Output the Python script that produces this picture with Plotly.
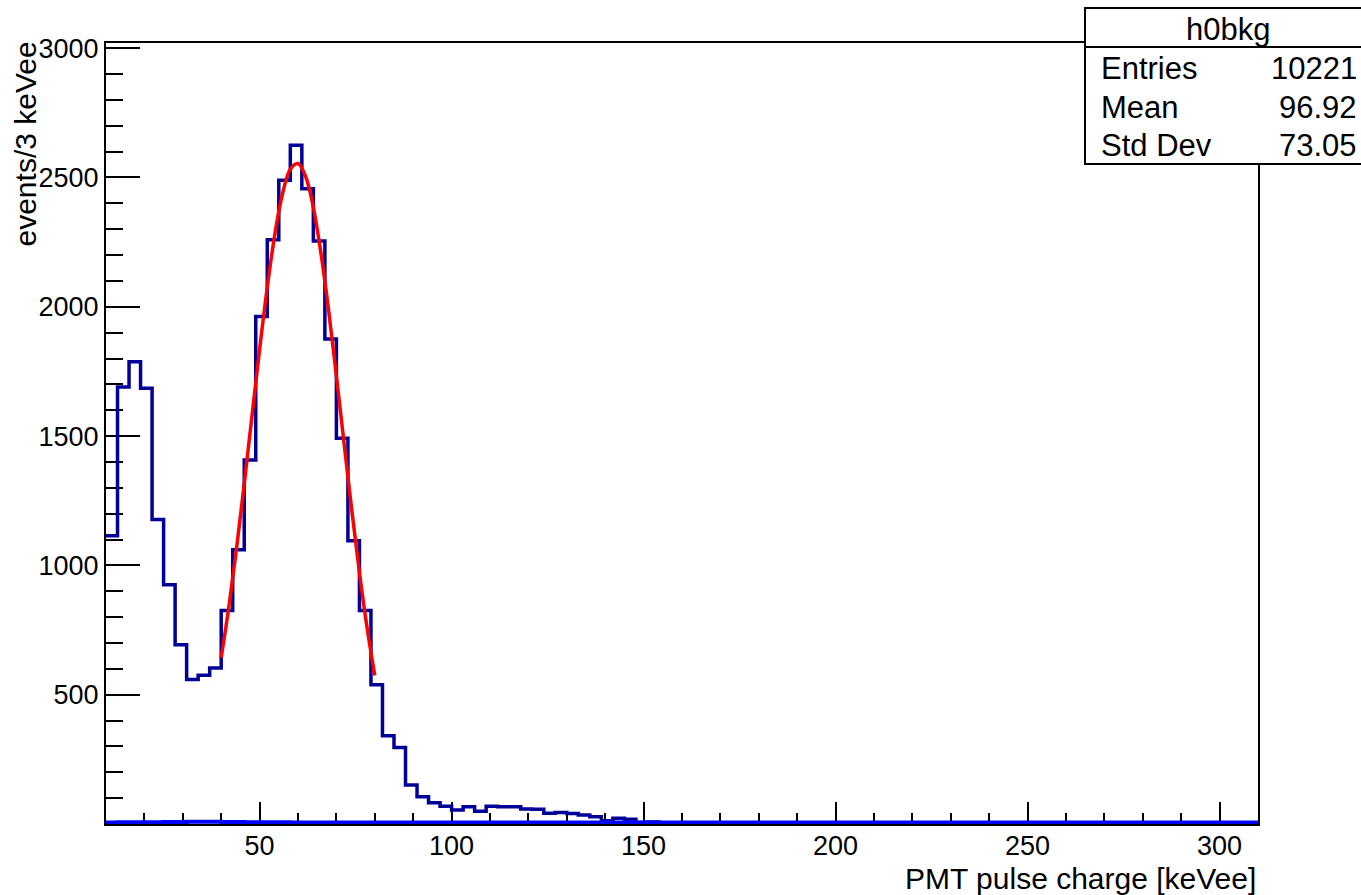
import plotly.graph_objects as go

# ---------------- data ----------------
bin_start = 10.0
bin_width = 3.0
n_bins = 100

h0bkg_counts = [
    1115, 1690, 1787, 1685, 1177, 925, 693, 559, 575, 603,
    826, 1060, 1408, 1962, 2259, 2489, 2625, 2456, 2254, 1875,
    1492, 1095, 826, 538, 341, 296, 151, 105, 82, 69,
    54, 67, 49, 69, 67, 67, 58, 57, 42, 44,
    41, 35, 28, 13, 22, 18, 6, 8, 4, 3,
    2, 2, 1, 2, 1, 1, 0, 1, 1, 0,
    1, 0, 1, 0, 0, 1, 0, 0, 1, 0,
    0, 0, 1, 0, 0, 0, 0, 1, 0, 0,
    0, 0, 0, 0, 1, 0, 0, 0, 0, 0,
    0, 0, 0, 0, 0, 0, 0, 0, 0, 0,
]

second_counts = [
    6, 7, 7, 7, 7, 8, 8, 9, 9, 9,
    8, 8, 7, 7, 7, 7, 6, 6, 6, 6,
    6, 6, 6, 6, 6, 6, 6, 6, 6, 6,
    6, 6, 6, 6, 6, 6, 6, 6, 6, 6,
    6, 6, 6, 6, 6, 6, 6, 6, 6, 6,
    6, 6, 6, 6, 6, 6, 6, 6, 6, 6,
    6, 6, 6, 6, 6, 6, 6, 6, 6, 6,
    6, 6, 6, 6, 6, 6, 6, 6, 6, 6,
    6, 6, 6, 6, 6, 6, 6, 6, 6, 6,
    6, 6, 6, 6, 6, 6, 6, 6, 6, 6,
]

fit_x = [40, 42, 44, 46, 48, 50, 52, 54, 56, 58, 60,
         62, 64, 66, 68, 70, 72, 74, 76, 78, 80]
fit_y = [643, 840, 1066, 1315, 1576, 1835, 2076, 2283, 2439, 2532, 2554,
         2503, 2384, 2205, 1983, 1733, 1471, 1214, 972, 758, 574]

stats_title = "h0bkg"
stats_labels = ["Entries", "Mean", "Std Dev"]
stats_values = ["10221", "96.92", "73.05"]

x_title = "PMT pulse charge [keVee]"
y_title = "events/3 keVee"

x_range = [10, 310]
y_range = [0, 3020]

# ---------------- helpers ----------------
edges = [bin_start + bin_width * i for i in range(n_bins + 1)]


def step_xy(counts):
    xs = list(edges)
    ys = list(counts) + [counts[-1]]
    return xs, ys


W, H = 1361, 895
L, R, T, B = 106, 1258, 43, 824   # plot area in pixels


def px(x):
    return (x - L) / (R - L)


def py(y):
    return (B - y) / (B - T)


FONT = "Liberation Sans, Arial, Helvetica, sans-serif"

fig = go.Figure()

hx, hy = step_xy(h0bkg_counts)
fig.add_trace(go.Scatter(x=hx, y=hy, mode="lines", line_shape="hv",
                         line=dict(color="#000099", width=3.5),
                         hoverinfo="skip", showlegend=False))

sx, sy = step_xy(second_counts)
fig.add_trace(go.Scatter(x=sx, y=sy, mode="lines", line_shape="hv",
                         line=dict(color="#0000ff", width=4),
                         hoverinfo="skip", showlegend=False))

fig.add_trace(go.Scatter(x=fit_x, y=fit_y, mode="lines", line_shape="spline",
                         line=dict(color="#ff0000", width=3.5),
                         hoverinfo="skip", showlegend=False))

axis_common = dict(showgrid=False, zeroline=False, showline=True,
                   linecolor="black", linewidth=2, mirror=True,
                   ticks="inside", tickcolor="black", tickwidth=1.5,
                   layer="below traces",
                   tickfont=dict(family=FONT, size=27, color="black"))

fig.update_xaxes(range=x_range, tickmode="linear", tick0=0, dtick=50,
                 ticklen=22, ticklabelstandoff=-3,
                 minor=dict(ticks="inside", dtick=10, tick0=0, ticklen=11,
                            tickwidth=1.5, tickcolor="black"),
                 **axis_common)
fig.update_yaxes(range=y_range, tickmode="linear", tick0=0, dtick=500,
                 ticklen=34, ticklabelstandoff=0, labelalias={"0": ""},
                 minor=dict(ticks="inside", dtick=100, tick0=0, ticklen=17,
                            tickwidth=1.5, tickcolor="black"),
                 **axis_common)

shapes = []
box_l, box_r, box_t, box_b, box_sep = 1085, 1372, 8, 164, 47
shapes.append(dict(type="rect", xref="paper", yref="paper",
                   x0=px(box_l), x1=px(box_r), y0=py(box_b), y1=py(box_t),
                   line=dict(color="black", width=2), fillcolor="white",
                   layer="above"))
shapes.append(dict(type="line", xref="paper", yref="paper",
                   x0=px(box_l), x1=px(box_r), y0=py(box_sep), y1=py(box_sep),
                   line=dict(color="black", width=2), layer="above"))

annotations = []
annotations.append(dict(text=stats_title, xref="paper", yref="paper",
                        x=px(1228), y=py(29), xanchor="center", yanchor="middle",
                        showarrow=False, font=dict(family=FONT, size=31, color="black")))
row_centers = [68, 107, 146]
for lab, val, yc in zip(stats_labels, stats_values, row_centers):
    annotations.append(dict(text=lab, xref="paper", yref="paper",
                            x=px(1099), y=py(yc), xanchor="left", yanchor="middle",
                            showarrow=False, font=dict(family=FONT, size=31, color="black")))
    annotations.append(dict(text=val, xref="paper", yref="paper",
                            x=px(1359), y=py(yc), xanchor="right", yanchor="middle",
                            showarrow=False, font=dict(family=FONT, size=31, color="black")))

annotations.append(dict(text=x_title, xref="paper", yref="paper",
                        x=px(1258), y=py(878), xanchor="right", yanchor="middle",
                        showarrow=False, font=dict(family=FONT, size=30, color="black")))
annotations.append(dict(text=y_title, xref="paper", yref="paper", textangle=-90,
                        x=px(25), y=py(40), xanchor="center", yanchor="top",
                        showarrow=False, font=dict(family=FONT, size=30, color="black")))

fig.update_layout(width=W, height=H,
                  margin=dict(l=L, r=W - R, t=T, b=H - B, pad=0),
                  paper_bgcolor="white", plot_bgcolor="white",
                  shapes=shapes, annotations=annotations,
                  showlegend=False)

fig.write_html("out.html")
